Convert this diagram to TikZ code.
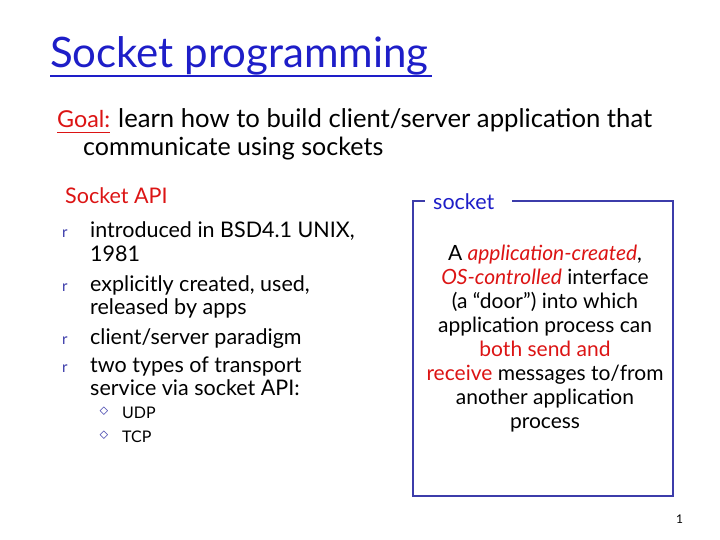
\documentclass[tikz,border=0pt]{standalone}
\usepackage{fontspec}
\usepackage{graphicx}
\setmainfont{Lato}
\begin{document}
\begin{tikzpicture}[x=1pt,y=-1pt,
  every node/.style={inner sep=0pt,anchor=base west},
  body/.style={font=\fontsize{21.5}{24}\selectfont},
  small/.style={font=\fontsize{16}{18}\selectfont},
  ctr/.style={font=\fontsize{21}{24}\selectfont,anchor=base}]
\definecolor{tblue}{RGB}{30,30,200}
\definecolor{bblue}{RGB}{60,60,170}
\definecolor{tred}{RGB}{220,20,20}
\useasboundingbox[fill=white] (0,0) rectangle (720,540);
\node[font=\fontsize{42}{44}\selectfont,text=tblue] (title) at (50,68) {Socket programming};
\draw[tblue,line width=1.2] (50,76) -- (432,76);
\node[body,text=tred] (goal) at (57,128) {\resizebox{53pt}{!}{Goal:}};
\draw[tred,line width=0.8] (57,132) -- (110,132);
\node[body] (g1) at (118,128) {\resizebox{534pt}{!}{\fontsize{21.5}{24}\selectfont learn how to build client/server application that}};
\node[body] (g2) at (83,156) {\resizebox{300pt}{!}{\fontsize{21.5}{24}\selectfont communicate using sockets}};
\node[body,text=tred] (api) at (65,204) {Socket API};
\foreach \y/\t in {237/{introduced in BSD4.1 UNIX,},261/{1981},291/{explicitly created, used,},314/{released by apps},344/{client/server paradigm},372/{two types of transport},395/{service via socket API:}}
  \node[body] at (90,\y) {\t};
\foreach \y [count=\i] in {237,291,344,372}
  \node[font=\fontsize{15}{15}\selectfont,text=bblue] (b\i) at (62,\y) {r};
\node[small] (udp) at (122,418) {UDP};
\node[small] (tcp) at (122,442) {TCP};
\foreach \y [count=\i] in {412,436}
  \node[font=\fontsize{16}{16}\selectfont,text=bblue,anchor=center] (d\i) at (104,\y) {$\diamond$};
\draw[bblue,line width=2] (512,201) -- (673,201) -- (673,496) -- (413,496) -- (413,201) -- (425,201);
\node[body,text=tblue] (sock) at (433,210) {socket};
\foreach \y/\t [count=\i] in {
  260/{A \textcolor{tred}{\itshape application-created},},
  284/{\textcolor{tred}{\itshape OS-controlled} interface},
  308/{(a “door”) into which},
  332/{application process can},
  356/{\textcolor{tred}{both send and}},
  380/{\textcolor{tred}{receive} messages to/from},
  404/{another application},
  428/{process}}
  \node[ctr] (c\i) at (545,\y) {\t};
\node[font=\fontsize{12}{12}\selectfont\rmfamily] (pg) at (676,523) {1};
\end{tikzpicture}
\end{document}
